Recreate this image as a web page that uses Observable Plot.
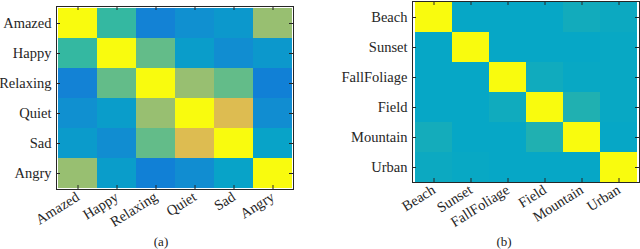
<!DOCTYPE html>
<html>
<head>
<meta charset="utf-8">
<script src="https://cdn.jsdelivr.net/npm/d3@7"></script>
<script src="https://cdn.jsdelivr.net/npm/@observablehq/plot@0.6"></script>
<style>
  html, body { margin: 0; padding: 0; background: #fff; }
  #wrap { position: relative; width: 640px; height: 249px; overflow: hidden; }
  .panel { position: absolute; top: 0; }
  .panel svg text { font-family: "Liberation Serif", "Times New Roman", serif !important; font-size: 14.5px !important; fill: #262626; }
  .cap { position: absolute; font-family: "Liberation Serif", "Times New Roman", serif; font-size: 13px; line-height: 15px; color: #222; transform: translateX(-50%); }
</style>
</head>
<body>
<div id="wrap">
  <div class="panel" id="pa" style="left:0px"></div>
  <div class="panel" id="pb" style="left:320px"></div>
  <div class="cap" style="left:161px; top:234px">(a)</div>
  <div class="cap" style="left:504px; top:234px">(b)</div>
</div>
<script>
// Panel (a): emotion similarity
const emotions = ["Amazed", "Happy", "Relaxing", "Quiet", "Sad", "Angry"];
const emotionValues = [
  [1.00, 0.49, 0.24, 0.29, 0.32, 0.635],
  [0.49, 1.00, 0.56, 0.34, 0.28, 0.32],
  [0.24, 0.56, 1.00, 0.635, 0.56, 0.23],
  [0.29, 0.34, 0.635, 1.00, 0.765, 0.28],
  [0.33, 0.28, 0.56, 0.765, 1.00, 0.36],
  [0.635, 0.34, 0.23, 0.28, 0.36, 1.00]
];
// Panel (b): scene similarity
const scenes = ["Beach", "Sunset", "FallFoliage", "Field", "Mountain", "Urban"];
const sceneValues = [
  [1.00, 0.375, 0.375, 0.375, 0.405, 0.39],
  [0.375, 1.00, 0.375, 0.375, 0.375, 0.38],
  [0.375, 0.375, 1.00, 0.40, 0.38, 0.38],
  [0.375, 0.375, 0.40, 1.00, 0.44, 0.38],
  [0.41, 0.375, 0.375, 0.44, 1.00, 0.375],
  [0.39, 0.38, 0.375, 0.375, 0.375, 1.00]
];
const parula = ["#352a87","#0363e1","#1485d4","#06a7c6","#38b99e","#92bf73","#d9ba56","#fcce2e","#f9fb0e"];

function toRows(labels, values) {
  const rows = [];
  values.forEach((r, i) => r.forEach((v, j) => rows.push({row: labels[i], col: labels[j], v})));
  return rows;
}

function heat(labels, values, m) {
  const data = toRows(labels, values);
  const ph = m.height - m.marginTop - m.marginBottom;
  const pw = m.width - m.marginLeft - m.marginRight;
  return Plot.plot({
    width: m.width, height: m.height,
    marginLeft: m.marginLeft, marginRight: m.marginRight,
    marginTop: m.marginTop, marginBottom: m.marginBottom,
    style: {fontFamily: "'Liberation Serif', 'Times New Roman', serif", fontSize: "14.5px", color: "#262626", background: "transparent"},
    x: {domain: labels, padding: 0, label: null},
    y: {domain: labels, padding: 0, label: null},
    color: {type: "linear", domain: [0, 1], interpolate: d3.piecewise(d3.interpolateRgb, parula)},
    marks: [
      Plot.cell(data, {x: "col", y: "row", fill: "v", inset: 0}),
      Plot.tickX(labels, {x: d => d, stroke: "#262626", insetBottom: ph - 4}),
      Plot.tickX(labels, {x: d => d, stroke: "#262626", insetTop: ph - 4}),
      Plot.tickY(labels, {y: d => d, stroke: "#262626", insetRight: pw - 4}),
      Plot.tickY(labels, {y: d => d, stroke: "#262626", insetLeft: pw - 4}),
      Plot.frame({stroke: "#262626", strokeWidth: 1}),
      Plot.axisX({anchor: "bottom", tickSize: 0, tickPadding: 6, tickRotate: -32}),
      Plot.axisY({anchor: "left", tickSize: 0, tickPadding: 5})
    ]
  });
}

document.getElementById("pa").append(heat(emotions, emotionValues,
  {width: 320, height: 249, marginLeft: 56, marginRight: 27, marginTop: 6, marginBottom: 60}));
document.getElementById("pb").append(heat(scenes, sceneValues,
  {width: 320, height: 249, marginLeft: 92, marginRight: 1, marginTop: 1, marginBottom: 67}));
</script>
</body>
</html>
